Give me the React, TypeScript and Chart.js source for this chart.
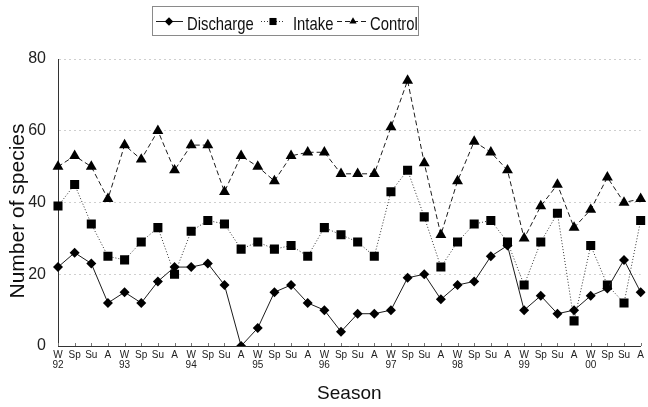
import React, { useEffect, useRef } from "react";
import { Chart, registerables } from "chart.js";

Chart.register(...registerables);

// Season codes and survey years for the x axis
const seasons = ["W", "Sp", "Su", "A"];
const years = ["92", "93", "94", "95", "96", "97", "98", "99", "00"];

// Number of species per season at each station
const discharge = [22, 26, 23, 12, 15, 12, 18, 22, 22, 23, 17, 0, 5, 15, 17, 12, 10, 4, 9, 9, 10, 19, 20, 13, 17, 18, 25, 28, 10, 14, 9, 10, 14, 16, 24, 15];
const intake = [39, 45, 34, 25, 24, 29, 33, 20, 32, 35, 34, 27, 29, 27, 28, 25, 33, 31, 29, 25, 43, 49, 36, 22, 29, 34, 35, 29, 17, 29, 37, 7, 28, 17, 12, 35];
const control = [50, 53, 50, 41, 56, 52, 60, 49, 56, 56, 43, 53, 50, 46, 53, 54, 54, 48, 48, 48, 61, 74, 51, 31, 46, 57, 54, 49, 30, 39, 45, 33, 38, 47, 40, 41];

const yMin = 0;
const yMax = 80;
const yStep = 20;

const FONT = "'Liberation Sans', Arial, Helvetica, sans-serif";
const INK = "#1c1c1c";

// Winter ticks carry the year on a second line
const categoryLabels: (string | string[])[] = years.flatMap((yr) =>
  seasons.map((s) => (s === "W" ? [s, yr] : s))
);

function drawMarker(ctx: CanvasRenderingContext2D, style: string, x: number, y: number, r: number) {
  ctx.beginPath();
  if (style === "rectRot") {
    ctx.moveTo(x, y - r);
    ctx.lineTo(x + r, y);
    ctx.lineTo(x, y + r);
    ctx.lineTo(x - r, y);
  } else if (style === "rect") {
    const s = r * Math.SQRT1_2;
    ctx.rect(x - s, y - s, 2 * s, 2 * s);
  } else {
    const a = (2 * Math.PI) / 3;
    ctx.moveTo(x, y - r);
    ctx.lineTo(x + Math.sin(a) * r, y - Math.cos(a) * r);
    ctx.lineTo(x + Math.sin(2 * a) * r, y - Math.cos(2 * a) * r);
  }
  ctx.closePath();
  ctx.fill();
}

// Inward ticks on the season axis, rotated y-axis title and boxed legend
const decorations = {
  id: "decorations",
  beforeDatasetsDraw(chart: any) {
    const { ctx, chartArea } = chart;
    const xs = chart.scales.x;
    ctx.save();
    ctx.strokeStyle = "#777";
    ctx.lineWidth = 1;
    for (let i = 0; i < xs.ticks.length; i++) {
      const px = Math.round(xs.getPixelForTick(i)) + 0.5;
      ctx.beginPath();
      ctx.moveTo(px, chartArea.bottom);
      ctx.lineTo(px, chartArea.bottom - 3);
      ctx.stroke();
    }
    ctx.restore();
  },
  afterDraw(chart: any) {
    const { ctx } = chart;

    // y-axis title
    ctx.save();
    ctx.translate(18.5, 211);
    ctx.rotate(-Math.PI / 2);
    ctx.font = `21px ${FONT}`;
    ctx.fillStyle = "#111";
    ctx.textAlign = "center";
    ctx.textBaseline = "middle";
    ctx.fillText("Number of species", 0, 0);
    ctx.restore();

    // legend frame
    ctx.save();
    ctx.strokeStyle = "#8a8a8a";
    ctx.lineWidth = 1;
    ctx.strokeRect(152.5, 6.5, 266, 29);
    ctx.restore();

    const slots = [
      { x0: 156, x1: 183, mx: 169, tx: 187 },
      { x0: 261, x1: 284, mx: 273, tx: 293 },
      { x0: 337, x1: 367, mx: 353, tx: 370 },
    ];
    const ly = 21.5;
    chart.data.datasets.forEach((ds: any, i: number) => {
      const s = slots[i];
      ctx.save();
      ctx.strokeStyle = ds.borderColor;
      ctx.lineWidth = 1;
      ctx.setLineDash(ds.borderDash || []);
      ctx.beginPath();
      ctx.moveTo(s.x0, ly);
      ctx.lineTo(s.x1, ly);
      ctx.stroke();
      ctx.setLineDash([]);
      ctx.fillStyle = "#000";
      drawMarker(ctx, ds.pointStyle, s.mx, ly, ds.pointStyle === "rect" ? 5 : 4.2);
      ctx.restore();

      ctx.save();
      ctx.font = `19px ${FONT}`;
      ctx.fillStyle = "#111";
      ctx.textAlign = "left";
      ctx.textBaseline = "alphabetic";
      ctx.translate(s.tx, 29.5);
      ctx.scale(0.78, 1);
      ctx.fillText(ds.label, 0, 0);
      ctx.restore();
    });
  },
};

export default function App() {
  const canvasRef = useRef<HTMLCanvasElement | null>(null);

  useEffect(() => {
    const canvas = canvasRef.current;
    if (!canvas) return;
    const chart = new Chart(canvas, {
      type: "line",
      data: {
        labels: categoryLabels as any,
        datasets: [
          {
            label: "Discharge",
            data: discharge,
            borderColor: INK,
            borderWidth: 1,
            borderDash: [],
            pointStyle: "rectRot",
            pointRadius: 5,
            pointBackgroundColor: "#000",
            pointBorderWidth: 0,
            tension: 0,
          },
          {
            label: "Intake",
            data: intake,
            borderColor: "#333",
            borderWidth: 1,
            borderDash: [1, 2],
            pointStyle: "rect",
            pointRadius: 6.4,
            pointBackgroundColor: "#000",
            pointBorderWidth: 0,
            tension: 0,
          },
          {
            label: "Control",
            data: control,
            borderColor: INK,
            borderWidth: 1,
            borderDash: [5, 3],
            pointStyle: "triangle",
            pointRadius: 6.3,
            pointBackgroundColor: "#000",
            pointBorderWidth: 0,
            tension: 0,
          },
        ],
      },
      options: {
        responsive: false,
        animation: false,
        devicePixelRatio: 1,
        layout: { padding: { top: 59, right: 4, left: 0, bottom: 0 } },
        plugins: {
          legend: { display: false },
          tooltip: { enabled: false },
          title: { display: false },
        },
        scales: {
          x: {
            type: "category",
            offset: false,
            grid: { display: false, drawTicks: false },
            border: { display: true, color: "#333", width: 1 },
            ticks: {
              autoSkip: false,
              maxRotation: 0,
              minRotation: 0,
              padding: 4,
              color: "#222",
              font: { family: FONT, size: 10, lineHeight: 1.0 },
            },
            title: {
              display: true,
              text: "Season",
              color: "#111",
              font: { family: FONT, size: 19 },
              padding: { top: 0, bottom: 2 },
            },
            afterFit(scale: any) {
              scale.height = 61;
            },
          },
          y: {
            min: yMin,
            max: yMax,
            ticks: {
              stepSize: yStep,
              padding: 12,
              color: "#222",
              font: { family: FONT, size: 16 },
            },
            grid: { color: "#cfcfcf", drawTicks: false, lineWidth: 1 },
            border: { display: true, color: "#333", width: 1, dash: [2, 3] },
            afterFit(scale: any) {
              scale.width = 58;
            },
          },
        },
      } as any,
      plugins: [decorations],
    });
    return () => chart.destroy();
  }, []);

  return (
    <div style={{ position: "fixed", left: 0, top: 0, width: 648, height: 407, background: "#fff" }}>
      <canvas ref={canvasRef} width={648} height={407} style={{ display: "block", width: 648, height: 407 }} />
    </div>
  );
}
